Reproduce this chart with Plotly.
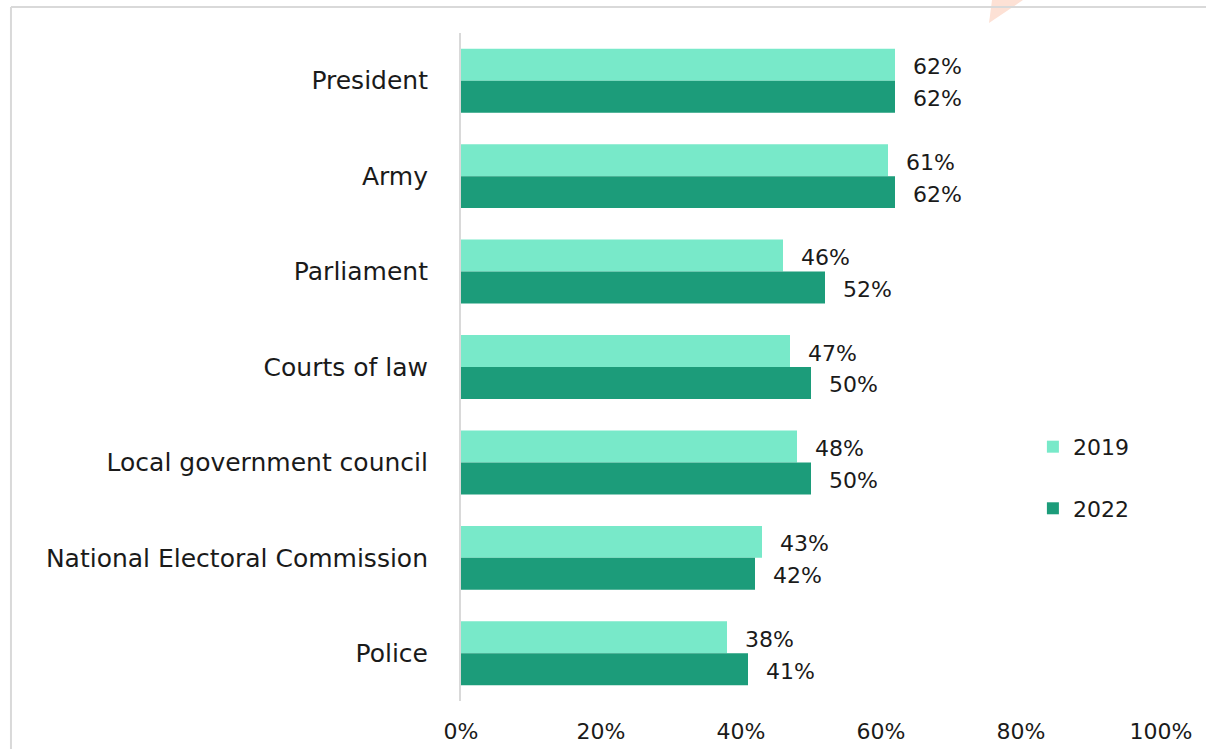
import plotly.graph_objects as go

# Trust in institutions, share of respondents
institutions = [
    "President",
    "Army",
    "Parliament",
    "Courts of law",
    "Local government council",
    "National Electoral Commission",
    "Police",
]
trust_2019 = [62, 61, 46, 47, 48, 43, 38]
trust_2022 = [62, 62, 52, 50, 50, 42, 41]
x_ticks = [0, 20, 40, 60, 80, 100]
x_tick_labels = ["0%", "20%", "40%", "60%", "80%", "100%"]

COLOR_2019 = "#78E9C9"
COLOR_2022 = "#1C9C7A"
TEXT = "#1a1a1a"
FONT = "DejaVu Sans"
FS_NUM = 22
FS_CAT = 25

BARGAP = 0.33
half = (1 - BARGAP) / 4  # centre offset of each bar within its group

fig = go.Figure()
fig.add_trace(go.Bar(
    y=institutions, x=trust_2019, orientation="h", name="2019",
    marker=dict(color=COLOR_2019, line=dict(width=0)),
    legendgroup="a",
))
fig.add_trace(go.Bar(
    y=institutions, x=trust_2022, orientation="h", name="2022",
    marker=dict(color=COLOR_2022, line=dict(width=0)),
    legendgroup="b",
))

# value labels just past the end of each bar
for vals, off in ((trust_2019, -half), (trust_2022, half)):
    for i, v in enumerate(vals):
        fig.add_annotation(
            x=v, y=i + off, xref="x", yref="y",
            text=f"{v}%", showarrow=False,
            xanchor="left", yanchor="middle", xshift=16, yshift=-2,
            font=dict(family=FONT, size=FS_NUM, color=TEXT),
        )

# frame around the chart and the small accent mark at the top
fig.add_shape(type="path", xref="paper", yref="paper",
              path="M 0.7543 1.0150 L 0.7586 1.0494 L 0.8029 1.0494 Z",
              fillcolor="#FDE1D5", line=dict(width=0), layer="below")
fig.add_shape(type="line", xref="paper", yref="paper",
              x0=-0.6429, x1=1.2, y0=1.0389, y1=1.0389,
              line=dict(color="#D9D9D9", width=2))
fig.add_shape(type="line", xref="paper", yref="paper",
              x0=-0.6429, x1=-0.6429, y0=1.0389, y1=-0.2,
              line=dict(color="#D9D9D9", width=2))

fig.update_layout(
    width=1206, height=749,
    margin=dict(l=461, r=45, t=33, b=48, autoexpand=False),
    paper_bgcolor="white", plot_bgcolor="white",
    barmode="group", bargap=BARGAP, bargroupgap=0,
    font=dict(family=FONT, size=FS_NUM, color=TEXT),
    showlegend=True,
    legend=dict(
        x=0.817, y=0.334, xanchor="left", yanchor="middle",
        traceorder="grouped", tracegroupgap=30,
        font=dict(family=FONT, size=FS_NUM, color=TEXT),
        itemwidth=30, bgcolor="rgba(0,0,0,0)",
    ),
    xaxis=dict(
        range=[0, 100], tickvals=x_ticks, ticktext=x_tick_labels,
        showgrid=False, zeroline=False, showline=False,
        ticks="", ticklabelstandoff=15, fixedrange=True,
    ),
    yaxis=dict(
        autorange="reversed", showgrid=False, zeroline=False,
        showline=True, linecolor="#D9D9D9", linewidth=2,
        ticks="", ticklabelstandoff=26,
        tickfont=dict(family=FONT, size=FS_CAT, color=TEXT),
    ),
)

fig.write_html("out.html")
